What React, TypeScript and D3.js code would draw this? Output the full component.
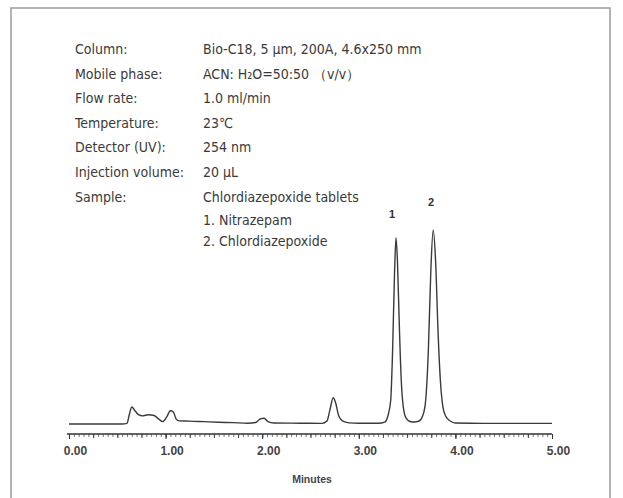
import React, { useEffect, useRef } from "react";
import * as d3 from "d3";

// ---- data ----
const traceTimes = [
  0.0, 0.55, 0.6, 0.625, 0.65, 0.68, 0.72, 0.76, 0.82, 0.88, 0.93, 0.97, 1.01, 1.05, 1.08, 1.11, 1.14,
  1.25, 1.4, 1.55, 1.7, 1.85, 1.93, 1.98, 2.02, 2.06, 2.12, 2.4, 2.62, 2.67, 2.7, 2.735, 2.76, 2.79,
  2.83, 2.9, 3.0, 3.2, 3.27, 3.30, 3.33, 3.35, 3.37, 3.385, 3.40, 3.42, 3.44, 3.46, 3.49, 3.53, 3.57,
  3.62, 3.66, 3.69, 3.72, 3.745, 3.77, 3.795, 3.82, 3.845, 3.87, 3.9, 3.95, 4.0, 4.3, 4.7, 5.0,
];
const traceSignal = [
  0, 0, 0.3, 5, 8.8, 7, 4.8, 4.2, 4.8, 4.4, 2.5, 1.2, 3.5, 6.8, 6.2, 2.5, 1.6,
  1.5, 1.2, 0.9, 0.7, 0.4, 0.8, 2.6, 3.0, 1.2, 0.5, 0.4, 0.3, 1.5, 7, 13.5, 11, 4.5,
  1.6, 0.6, 0.4, 0.4, 1.0, 4, 12, 38, 78, 96, 84, 50, 22, 9, 3, 1.3, 1.0,
  1.4, 4, 11, 38, 78, 100, 84, 48, 22, 9, 4, 1.4, 0.5, 0.3, 0.3, 0.3,
];
const majorTicks = [0, 1, 2, 3, 4, 5];
const tickLabels = ["0.00", "1.00", "2.00", "3.00", "4.00", "5.00"];
const peakLabels = ["1", "2"];
const peakLabelTimes = [3.344, 3.747];
const peakLabelHeights = [108, 114.5];

const infoLabels = [
  "Column:",
  "Mobile phase:",
  "Flow rate:",
  "Temperature:",
  "Detector (UV):",
  "Injection volume:",
  "Sample:",
];
const infoValues = [
  "Bio-C18, 5 \u00b5m, 200A, 4.6x250 mm",
  "ACN: H\u2082O=50:50 \uff08v/v\uff09",
  "1.0 ml/min",
  "23\u2103",
  "254 nm",
  "20 \u00b5L",
  "Chlordiazepoxide tablets",
];
const sampleItems = ["1. Nitrazepam", "2. Chlordiazepoxide"];

const W = 623;
const H = 498;

export default function App() {
  const ref = useRef<SVGSVGElement | null>(null);

  useEffect(() => {
    const svg = d3.select(ref.current);
    svg.selectAll("*").remove();

    const x = d3.scaleLinear().domain([0, 5]).range([69, 552]);
    const y = d3.scaleLinear().domain([0, 100]).range([424, 230]);

    // frame
    svg
      .append("rect")
      .attr("x", 11)
      .attr("y", 8)
      .attr("width", 599)
      .attr("height", 520)
      .attr("fill", "#fff")
      .attr("stroke", "#9a9a9a")
      .attr("stroke-width", 1.5);

    // info text
    const textFont = "'DejaVu Sans Condensed', 'Liberation Sans Narrow', sans-serif";
    const rowY = d3.scaleLinear().domain([0, 1]).range([49, 73.6]);
    const g = svg
      .append("g")
      .attr("font-family", textFont)
      .attr("font-size", 14)
      .attr("font-stretch", "condensed")
      .attr("fill", "#3a3a3a");
    infoLabels.forEach((lab, i) => {
      g.append("text").attr("x", 75).attr("y", rowY(i)).attr("dy", "0.35em").text(lab);
    });
    infoValues.forEach((v, i) => {
      g.append("text").attr("x", 203).attr("y", rowY(i)).attr("dy", "0.35em").text(v);
    });
    sampleItems.forEach((v, i) => {
      g.append("text").attr("x", 203).attr("y", 220 + i * 21).attr("dy", "0.35em").text(v);
    });

    // axis
    const axisY = 434;
    const axisG = svg.append("g").attr("transform", `translate(0,${axisY})`);
    const minor = d3.range(0, 5.0001, 0.05);
    axisG
      .call(d3.axisBottom(x).tickValues(minor).tickSize(3).tickFormat(() => "").tickSizeOuter(0))
      .call((s) => s.select(".domain").remove());
    axisG.selectAll("line").attr("stroke", "#555").attr("stroke-width", 0.8);

    const medG = svg.append("g").attr("transform", `translate(0,${axisY})`);
    medG
      .call(d3.axisBottom(x).tickValues(d3.range(0, 5.0001, 0.25)).tickSize(4).tickFormat(() => ""))
      .call((s) => s.select(".domain").remove());
    medG.selectAll("line").attr("stroke", "#444").attr("stroke-width", 1);

    const majG = svg.append("g").attr("transform", `translate(0,${axisY})`);
    majG
      .call(
        d3
          .axisBottom(x)
          .tickValues(majorTicks)
          .tickSize(5)
          .tickSizeOuter(0)
          .tickFormat((d, i) => tickLabels[i])
      )
      .call((s) =>
        s.select(".domain").attr("stroke", "#333").attr("stroke-width", 1.4).attr("d", `M${x(0) - 2},0H${x(5)}`)
      );
    majG.selectAll("line").attr("stroke", "#333").attr("stroke-width", 1);
    majG
      .selectAll("text")
      .attr("font-family", "'Liberation Sans', Arial, sans-serif")
      .attr("font-size", 12)
      .attr("font-weight", "bold")
      .attr("fill", "#444")
      .attr("dx", 6)
      .attr("y", 12);

    svg
      .append("text")
      .attr("x", 312)
      .attr("y", 479)
      .attr("dy", "0.35em")
      .attr("text-anchor", "middle")
      .attr("font-family", "'Liberation Sans', Arial, sans-serif")
      .attr("font-size", 10.5)
      .attr("font-weight", "bold")
      .attr("fill", "#444")
      .text("Minutes");

    // trace
    const pts = traceTimes.map((t, i) => [t, traceSignal[i]] as [number, number]);
    const line = d3
      .line<[number, number]>()
      .x((d) => x(d[0]))
      .y((d) => y(d[1]))
      .curve(d3.curveMonotoneX);
    svg
      .append("path")
      .attr("d", line(pts))
      .attr("fill", "none")
      .attr("stroke", "#3a3a3a")
      .attr("stroke-width", 1.4);

    // peak labels
    peakLabels.forEach((lab, i) => {
      svg
        .append("text")
        .attr("x", x(peakLabelTimes[i]))
        .attr("y", y(peakLabelHeights[i]))
        .attr("dy", "0.35em")
        .attr("text-anchor", "middle")
        .attr("font-family", "'Liberation Sans', Arial, sans-serif")
        .attr("font-size", 11)
        .attr("font-weight", "bold")
        .attr("fill", "#333")
        .text(lab);
    });
  }, []);

  return (
    <svg
      ref={ref}
      width={W}
      height={H}
      style={{ position: "absolute", left: 0, top: 0, background: "#fff" }}
    />
  );
}
